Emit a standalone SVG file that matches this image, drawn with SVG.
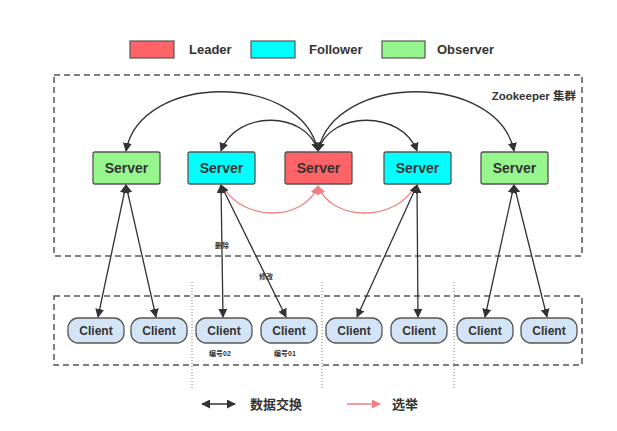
<svg xmlns="http://www.w3.org/2000/svg" width="617" height="431" viewBox="0 0 617 431">
<defs>
<style>
.t{font-family:"Liberation Sans","Noto Sans CJK SC",sans-serif;font-weight:bold;fill:#333;}
.srv{stroke:#555;stroke-width:1.3;}
.cl{fill:#d3e4f6;stroke:#555;stroke-width:1.3;}
.ln{fill:none;stroke:#333;stroke-width:1.3;}
.el{fill:none;stroke:#ef7f82;stroke-width:1.3;}
.box{fill:none;stroke:#555;stroke-width:1.5;stroke-dasharray:6,4;}
.sep{stroke:#777;stroke-width:1;stroke-dasharray:1,2;}
</style>
<marker id="ah" viewBox="0 0 10 10" refX="9" refY="5" markerWidth="9" markerHeight="9" markerUnits="userSpaceOnUse" orient="auto-start-reverse">
<path d="M0,0 L10,5 L0,10 z" fill="#333"/>
</marker>
<marker id="ahr" viewBox="0 0 10 10" refX="9" refY="5" markerWidth="9" markerHeight="9" markerUnits="userSpaceOnUse" orient="auto-start-reverse">
<path d="M0,0 L10,5 L0,10 z" fill="#ef7f82"/>
</marker>
</defs>
<rect width="617" height="431" fill="#fff"/>

<g id="legend">
<rect x="130" y="41" width="44" height="17" fill="#fe6467" stroke="#555" stroke-width="1.2"/>
<text class="t" x="189" y="54" font-size="13">Leader</text>
<rect x="251" y="41" width="44" height="17" fill="#00ffff" stroke="#555" stroke-width="1.2"/>
<text class="t" x="309" y="54" font-size="13">Follower</text>
<rect x="382" y="41" width="43" height="17" fill="#97f58e" stroke="#555" stroke-width="1.2"/>
<text class="t" x="437" y="54" font-size="13">Observer</text>
</g>

<g id="cluster">
<rect class="box" x="54" y="75" width="528" height="181"/>
<text class="t" x="576" y="100" font-size="11.5" text-anchor="end">Zookeeper 集群</text>
</g>

<g id="clients-area">
<rect class="box" x="54" y="296" width="528" height="69"/>
<line class="sep" x1="192" y1="282" x2="192" y2="390"/>
<line class="sep" x1="322" y1="282" x2="322" y2="390"/>
<line class="sep" x1="454" y1="282" x2="454" y2="390"/>
</g>

<g id="connectors">
<path class="ln" d="M318,151 C302,72 140,72 126,151" marker-start="url(#ah)" marker-end="url(#ah)"/>
<path class="ln" d="M318,151 C306,110 236,110 221,151" marker-start="url(#ah)" marker-end="url(#ah)"/>
<path class="ln" d="M318,151 C330,110 402,110 417,151" marker-start="url(#ah)" marker-end="url(#ah)"/>
<path class="ln" d="M318,151 C334,72 498,72 514,151" marker-start="url(#ah)" marker-end="url(#ah)"/>
<path class="el" d="M223,186 C242,222 304,222 318,186" marker-end="url(#ahr)"/>
<path class="el" d="M415,186 C396,222 332,222 318,186" marker-end="url(#ahr)"/>
<line class="ln" x1="126" y1="185" x2="98" y2="317" marker-start="url(#ah)" marker-end="url(#ah)"/>
<line class="ln" x1="126" y1="185" x2="156" y2="317" marker-start="url(#ah)" marker-end="url(#ah)"/>
<line class="ln" x1="221" y1="185" x2="223" y2="317" marker-start="url(#ah)" marker-end="url(#ah)"/>
<line class="ln" x1="221" y1="185" x2="286" y2="317" marker-start="url(#ah)" marker-end="url(#ah)"/>
<line class="ln" x1="417" y1="185" x2="357" y2="317" marker-start="url(#ah)" marker-end="url(#ah)"/>
<line class="ln" x1="417" y1="185" x2="418" y2="317" marker-start="url(#ah)" marker-end="url(#ah)"/>
<line class="ln" x1="514" y1="185" x2="485" y2="317" marker-start="url(#ah)" marker-end="url(#ah)"/>
<line class="ln" x1="514" y1="185" x2="547" y2="317" marker-start="url(#ah)" marker-end="url(#ah)"/>
<text class="t" x="222" y="248" font-size="7" text-anchor="middle">删除</text>
<text class="t" x="266" y="279" font-size="7" text-anchor="middle">修改</text>
</g>

<g id="server1"><rect class="srv" x="93" y="152" width="67" height="32" rx="2" fill="#97f58e"/><text class="t" x="126.5" y="173" font-size="14" text-anchor="middle">Server</text></g>
<g id="server2"><rect class="srv" x="188" y="152" width="67" height="32" rx="2" fill="#00ffff"/><text class="t" x="221.5" y="173" font-size="14" text-anchor="middle">Server</text></g>
<g id="server3"><rect class="srv" x="285" y="152" width="67" height="32" rx="2" fill="#fe6467"/><text class="t" x="318.5" y="173" font-size="14" text-anchor="middle">Server</text></g>
<g id="server4"><rect class="srv" x="384" y="152" width="67" height="32" rx="2" fill="#00ffff"/><text class="t" x="417.5" y="173" font-size="14" text-anchor="middle">Server</text></g>
<g id="server5"><rect class="srv" x="481" y="152" width="67" height="32" rx="2" fill="#97f58e"/><text class="t" x="514.5" y="173" font-size="14" text-anchor="middle">Server</text></g>

<g id="client1"><rect class="cl" x="68" y="318" width="56" height="25" rx="10"/><text class="t" x="96" y="335" font-size="12" text-anchor="middle">Client</text></g>
<g id="client2"><rect class="cl" x="131" y="318" width="56" height="25" rx="10"/><text class="t" x="159" y="335" font-size="12" text-anchor="middle">Client</text></g>
<g id="client3"><rect class="cl" x="196" y="318" width="56" height="25" rx="10"/><text class="t" x="224" y="335" font-size="12" text-anchor="middle">Client</text></g>
<g id="client4"><rect class="cl" x="261" y="318" width="56" height="25" rx="10"/><text class="t" x="289" y="335" font-size="12" text-anchor="middle">Client</text></g>
<g id="client5"><rect class="cl" x="326" y="318" width="56" height="25" rx="10"/><text class="t" x="354" y="335" font-size="12" text-anchor="middle">Client</text></g>
<g id="client6"><rect class="cl" x="391" y="318" width="56" height="25" rx="10"/><text class="t" x="419" y="335" font-size="12" text-anchor="middle">Client</text></g>
<g id="client7"><rect class="cl" x="457" y="318" width="56" height="25" rx="10"/><text class="t" x="485" y="335" font-size="12" text-anchor="middle">Client</text></g>
<g id="client8"><rect class="cl" x="521" y="318" width="56" height="25" rx="10"/><text class="t" x="549" y="335" font-size="12" text-anchor="middle">Client</text></g>

<g id="client-labels">
<text class="t" x="220" y="356" font-size="7" text-anchor="middle">编号02</text>
<text class="t" x="285" y="356" font-size="7" text-anchor="middle">编号01</text>
</g>

<g id="bottom-legend">
<line class="ln" x1="202" y1="404" x2="235" y2="404" marker-start="url(#ah)" marker-end="url(#ah)"/>
<text class="t" x="250" y="409" font-size="13">数据交换</text>
<line class="el" x1="347" y1="404" x2="380" y2="404" marker-end="url(#ahr)"/>
<text class="t" x="392" y="409" font-size="13">选举</text>
</g>
</svg>
